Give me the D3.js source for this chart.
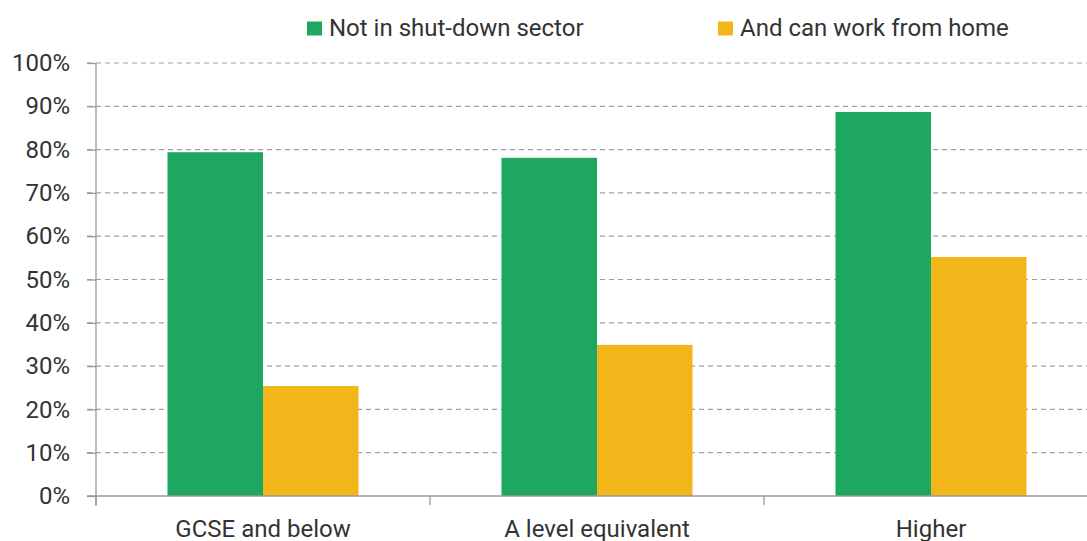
<!DOCTYPE html>
<html><head><meta charset="utf-8">
<script src="https://cdn.jsdelivr.net/npm/d3@7"></script>
<style>body{margin:0;background:#fff;overflow:hidden}svg{display:block}</style>
</head><body><svg id="c" width="1087" height="541"></svg>
<script>
const categories = ["GCSE and below", "A level equivalent", "Higher"];
const seriesNames = ["Not in shut-down sector", "And can work from home"];
const notShutDown = [79.4, 78.1, 88.7];
const workFromHome = [25.4, 34.9, 55.2];
const yTicks = [0,10,20,30,40,50,60,70,80,90,100];
const colors = ["#1ea760", "#f2b61b"];

const svg = d3.select("#c");
const font = "Roboto, 'Liberation Sans', sans-serif";
const x = d3.scaleBand().domain(categories).range([96, 1098]);
const y = d3.scaleLinear().domain([0,100]).range([496, 63]);
const groupW = x.bandwidth()*0.572;
const sub = d3.scaleBand().domain(seriesNames).range([(x.bandwidth()-groupW)/2, (x.bandwidth()+groupW)/2]);

// gridlines
svg.append("g").selectAll("line").data(yTicks.filter(d=>d>0)).join("line")
  .attr("x1", 87).attr("x2", 1087).attr("y1", d=>y(d)).attr("y2", d=>y(d))
  .attr("stroke", "#a0a0a0").attr("stroke-width", 1.2).attr("stroke-dasharray", "5,4");

// y axis
const ya = svg.append("g").attr("transform","translate(96,0)")
  .call(d3.axisLeft(y).tickValues(yTicks).tickFormat(d=>d+"%").tickSize(9).tickPadding(17));
ya.select(".domain").attr("stroke","#999").attr("stroke-width",1.3).attr("d","M0,63V506");
ya.selectAll(".tick line").attr("stroke","#999").attr("stroke-width",1.3);
ya.selectAll("text").attr("font-family",font).attr("font-size",24).attr("fill","#333");

// bars
const data = categories.map((c,i)=>({c, vals:[notShutDown[i], workFromHome[i]]}));
const g = svg.append("g").selectAll("g").data(data).join("g")
  .attr("transform", d=>`translate(${x(d.c)},0)`);
g.selectAll("rect").data(d=>d.vals.map((v,j)=>({v, s:seriesNames[j], j}))).join("rect")
  .attr("x", d=>sub(d.s)).attr("width", sub.bandwidth())
  .attr("y", d=>y(d.v)).attr("height", d=>y(0)-y(d.v))
  .attr("fill", d=>colors[d.j]);

// x axis
const xa = svg.append("g").attr("transform","translate(0,496)")
  .call(d3.axisBottom(x).tickSize(0).tickPadding(24));
xa.select(".domain").attr("stroke","#999").attr("stroke-width",1.5).attr("d","M87,0H1098");
xa.selectAll("text").attr("font-family",font).attr("font-size",24).attr("fill","#333").attr("dy","0.71em");
const bounds = categories.map(c=>x(c)).concat([x.range()[1]]);
svg.append("g").selectAll("line").data(bounds).join("line")
  .attr("x1", d=>d).attr("x2", d=>d).attr("y1", 496).attr("y2", 505)
  .attr("stroke","#999").attr("stroke-width",1.3);

// legend
const legX = [307, 718];
const lg = svg.append("g").selectAll("g").data(seriesNames).join("g")
  .attr("transform",(d,i)=>`translate(${legX[i]},0)`);
lg.append("rect").attr("x",0).attr("y",21.5).attr("width",15).attr("height",14).attr("fill",(d,i)=>colors[i]);
lg.append("text").attr("x",22).attr("y",36).text(d=>d)
  .attr("font-family",font).attr("font-size",24).attr("fill","#333");
</script></body></html>
